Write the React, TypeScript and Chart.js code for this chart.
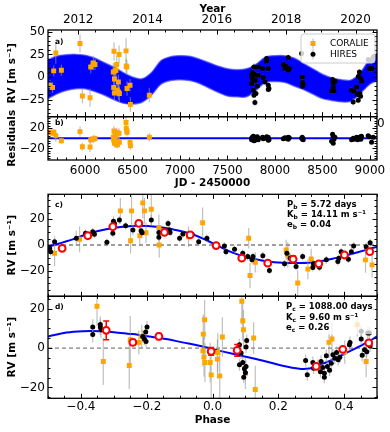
import React, { useEffect, useRef } from 'react';
import { Chart, registerables } from 'chart.js';
Chart.register(...registerables);

// ---------------- axis ranges & ticks ----------------
const JD_MIN = 5610;
const JD_MAX = 9075;
const jdTicks = [6000, 6500, 7000, 7500, 8000, 8500, 9000];
const yearTicks = [2012, 2014, 2016, 2018, 2020];
const rvTicksA = [-25, 0, 25, 50];
const resTicksB = [-20, 0, 20];
const rvTicksC = [-20, 0, 20];
const rvTicksD = [-20, 0, 20];
const phaseTicks = [-0.4, -0.2, 0, 0.2, 0.4];

// ---------------- panel a / b : time series ----------------
const coralieJD = [5632, 5658, 5692, 5670, 5751, 5947, 5972, 6053, 6060, 6088, 6105, 6298, 6316, 6305, 6326, 6310, 6333, 6351, 6358, 6302, 6309, 6338, 6352, 6362, 6432, 6434, 6440, 6442, 6474, 6478, 6677];
const coralieRV = [-9.2, -11.8, 26.6, 6.7, 7.4, 37, -21, -23, 11, 15.5, 13.7, 5.5, 6.7, 28.5, 7.4, -2.2, 13.8, -5.5, 24.8, -11.8, -17.8, -14.8, -16.6, -18.4, 28.9, 12.2, 11.1, -12.9, -9.2, -30.6, -20.3];
const coralieErr = [6, 6, 12, 6, 6, 10, 8, 10, 7, 8, 6, 10, 8, 10, 8, 8, 9, 8, 10, 8, 8, 7, 9, 9, 14, 8, 8, 8, 7, 8, 8];
const coralieRes = [12, 10, 5, 12, -4.7, 13.3, -16.7, -17.3, -2.7, -1.3, -0.5, 2, 6.7, 14.7, 4.7, -1.3, 12, -6.7, 10, -3.3, -10, -13.3, -6, -8, 31.3, 20, 15.3, 12, -8, -14.7, 2];

const hiresJD = [7754, 7754, 7762, 7765, 7772, 7772, 7779, 7779, 7785, 7789, 7789, 7795, 7800, 7807, 7815, 7824, 7824, 7870, 7877, 7895, 7912, 7912, 7930, 7930, 7929, 7937, 8088, 8105, 8116, 8140, 8140, 8151, 8281, 8288, 8291, 8291, 8298, 8597, 8607, 8614, 8614, 8621, 8632, 8807, 8824, 8832, 8860, 8870, 8877, 8880, 8890, 8895, 8902, 8905, 8912, 8982, 8993, 9018, 9035];
const hiresRV = [1.9, -7.3, -1.8, 5, -14.8, 3, 11.1, -20.3, -4, 2.7, -28.4, -3.7, -18.4, 1.9, -10, 1.9, 11.1, 9.3, -0.7, -5.5, 20.4, 17.4, -9.2, -14, 9.3, -12.9, 13.8, 9.3, 12.2, 21.5, 7.4, 9.3, 26, 0, -6.2, -10.3, -8.4, -15.5, -2.9, -7.3, -11.8, -15.5, -4.8, -14.8, -27.7, -15.9, -11.1, -19.5, -25.9, 0.8, 5.5, -18.4, -21.4, -1.8, -4.8, 19.3, 9.3, 9.3, 22.2];
const hiresErr = [3, 3, 3, 3, 3, 3, 4, 3, 3, 3, 4, 3, 3, 3, 3, 3, 3, 3, 3, 3, 3, 3, 3, 3, 3, 3, 3, 3, 3, 3, 3, 3, 3, 3, 3, 3, 3, 3, 3, 3, 3, 3, 3, 3, 4, 3, 3, 3, 3, 3, 3, 3, 3, 3, 3, 3, 3, 3, 3];
const hiresRes = [0, -3, 2, -1, 4, -2, 3, -5, 1, -2, -4, 0, 2, -1, 3, 0, -3, 2, -1, 0, 3, 1, -2, -4, 2, -3, -1, 1, 0, 2, -2, 1, 0, 2, -2, 0, -3, -6, 8, 4, -10, -2, 2, -3, 0, -2, 2, -3, -1, 0, 2, -1, 3, -2, 4, 5, 3, -8, 2];

// model band (upper / lower envelope) read at sample dates
const bandJD = [5610, 5700, 5800, 5900, 6000, 6100, 6200, 6300, 6400, 6500, 6600, 6700, 6800, 6900, 7000, 7100, 7200, 7300, 7400, 7500, 7600, 7700, 7800, 7900, 8000, 8100, 8200, 8300, 8400, 8500, 8600, 8700, 8800, 8900, 9000, 9075];
const bandUpper = [19, 23, 24.5, 25, 24, 21, 16, 11, 5, 0, -2, 5, 18, 22.5, 23.5, 23, 20, 16, 12, 9, 8, 9, 14, 22, 23.5, 23.5, 21, 15, 9, 3, -1, -3, -3.5, 5, 20, 26];
const bandLower = [-24, -19, -15, -13, -13, -16, -20, -25, -29, -30, -28, -20, -8, -4, -3, -4, -7, -12, -17, -21, -22, -22, -15, -6, -5, -6, -10, -14, -19, -24, -26, -27.5, -27, -18, -8, -4];

// ---------------- panel c : planet b phase fold ----------------
const hiresPhaseB = [-0.495, -0.492, -0.48, -0.414, -0.386, -0.364, -0.359, -0.321, -0.301, -0.303, -0.298, -0.283, -0.264, -0.242, -0.217, -0.214, -0.186, -0.163, -0.163, -0.135, -0.131, -0.129, -0.1, -0.09, -0.062, -0.042, -0.017, 0.011, 0.036, 0.041, 0.067, 0.092, 0.107, 0.12, 0.123, 0.153, 0.173, 0.219, 0.226, 0.236, 0.254, 0.274, 0.305, 0.307, 0.325, 0.346, 0.381, 0.384, 0.391, 0.413, 0.422, 0.429, 0.467, 0.479];
const hiresRVB = [-2.6, -5.2, 2.6, 5.2, 9.1, 10.3, 8.3, 2.1, 18.4, 9.1, 16.8, 19.4, 15, 11.6, 11.1, 9.5, 19.4, 6, 9.8, 16.8, 11.6, 9.8, 5.2, 8.5, 8.3, 2.6, 5.2, 0, -0.8, -5.2, -3.4, -6.5, -9, -11.6, -9, -8.3, -19.9, -14.7, -6.5, -10.3, -16.8, -9, -17.6, -14.7, -17.3, -11.6, -12.9, -10.3, -5.2, -11.1, -5.2, -0.8, -1.3, 1.8];
const hiresErrB = [3, 3, 4, 6, 3, 3, 3, 3, 4, 3, 3, 3, 3, 4, 3, 3, 4, 3, 3, 3, 3, 3, 3, 3, 3, 3, 3, 3, 3, 3, 3, 3, 3, 3, 3, 3, 3, 3, 3, 3, 3, 3, 3, 3, 3, 3, 3, 3, 3, 3, 3, 3, 3, 3];
const coraliePhaseB = [-0.48, -0.404, -0.28, -0.246, -0.249, -0.221, -0.212, -0.207, -0.186, -0.202, -0.163, -0.162, -0.03, -0.073, 0.11, 0.114, 0.13, 0.224, 0.229, 0.259, 0.29, 0.3, 0.465, 0.485];
const coralieRVB = [-6.5, 4.4, 26.6, 26.6, 3.3, 7.2, 32.8, 26.6, 27.9, 9.5, 13.7, 0, 17.3, 6.4, 5.2, -23.8, -13.4, -3.9, -7.8, -29.7, -18.8, -10.9, -11.6, -15.5];
const coralieErrB = [10, 10, 10, 12, 10, 8, 12, 10, 12, 8, 10, 10, 12, 8, 8, 10, 8, 8, 10, 10, 8, 8, 10, 10];
const binPhaseB = [-0.457, -0.379, -0.303, -0.224, -0.146, -0.068, 0.011, 0.089, 0.168, 0.245, 0.323, 0.401, 0.478];
const binRVB = [-2.6, 7.2, 14.2, 16.8, 9.8, 7.8, -0.5, -10.3, -14.2, -11.1, -14.7, -7.8, -5.2];
const binErrB = [1.5, 1.5, 1.5, 1.5, 1.5, 1.5, 1.5, 1.5, 1.5, 2.5, 1.5, 1.5, 1.5];
const modelPhaseB = [-0.5, -0.425, -0.374, -0.323, -0.273, -0.222, -0.171, -0.121, -0.07, -0.019, 0.011, 0.061, 0.112, 0.163, 0.213, 0.264, 0.315, 0.365, 0.416, 0.467, 0.5];
const modelRVB = [-1.3, 4.4, 9.1, 12.2, 14.2, 15, 14.2, 12.2, 9.1, 3.9, 0, -6, -10.2, -12.6, -13.8, -14, -13.2, -10.8, -7.4, -3.8, -1.3];

// ---------------- panel d : planet c phase fold ----------------
const hiresPhaseC = [-0.364, -0.364, -0.341, -0.341, -0.339, -0.212, -0.207, -0.202, -0.199, -0.203, 0.082, 0.087, 0.082, 0.092, 0.097, 0.095, 0.102, 0.102, 0.104, 0.1, 0.283, 0.288, 0.305, 0.307, 0.32, 0.328, 0.33, 0.335, 0.34, 0.34, 0.346, 0.349, 0.356, 0.361, 0.366, 0.372, 0.377, 0.382, 0.387, 0.416, 0.418, 0.452, 0.455, 0.462, 0.469, 0.479, 0.452, 0.472, 0.477];
const hiresRVC = [10.7, 6.9, 12, 10.7, 9.3, 5.9, 4.6, 3.4, 10.7, 8.2, 1.7, -2.5, -8.5, -7.3, -10.5, -14.8, -9.3, 0.5, 3.9, -12.5, -6.3, -13.6, -7.3, -10.2, -8.8, -12, -6.8, -9.8, -14.8, -12.8, -3.9, -9.3, -11.2, -7.7, -3.4, -5.1, -2.2, -5.9, -4.6, 1.7, 2.9, 4.6, -3.7, -0.8, -1.9, 1, 8.5, 7.7, 7.7];
const hiresErrC = [4, 4, 4, 4, 4, 3, 3, 3, 3, 3, 3, 3, 3, 3, 3, 3, 3, 3, 3, 3, 3, 3, 3, 3, 3, 3, 3, 3, 3, 3, 3, 3, 3, 3, 3, 3, 3, 3, 3, 3, 3, 3, 3, 3, 3, 3, 3, 3, 3];
const coraliePhaseC = [-0.351, -0.332, -0.253, -0.25, -0.224, -0.215, -0.029, -0.024, -0.028, -0.026, -0.023, -0.007, -0.004, 0.016, 0.015, 0.022, 0.03, 0.089, 0.092, 0.094, 0.1, 0.125, 0.13, 0.354, 0.363, 0.402, 0.467, 0.44];
const coralieRVC = [21.2, -6.8, -8.8, 4.3, 2.9, 5.9, -1.4, 14.4, 7.1, -4.6, -7.3, -7.3, -13.6, -2.2, -5.6, -14.1, 5.6, 23.8, 13.9, 9.3, -12.8, 5.1, -21, 2.9, 4.6, -2, -6.8, 11.9];
const coralieErrC = [10, 12, 12, 12, 6, 6, 8, 10, 10, 10, 10, 10, 12, 10, 10, 12, 10, 12, 10, 10, 8, 8, 12, 8, 8, 6, 8, 6];
const binPhaseC = [-0.323, -0.242, -0.163, -0.004, 0.075, 0.315, 0.396, 0.475];
const binRVC = [9.0, 2.9, 5.9, -1.7, -1.2, -9.3, -0.7, 2.6];
const binErrC = [4.8, 1.5, 1.5, 2, 3, 1, 0.8, 0.8];
const modelPhaseC = [-0.5, -0.444, -0.394, -0.343, -0.293, -0.242, -0.192, -0.141, -0.091, -0.04, 0.011, 0.061, 0.112, 0.163, 0.213, 0.264, 0.294, 0.315, 0.365, 0.416, 0.467, 0.5];
const modelRVC = [5.9, 7.9, 8.6, 8.6, 7.9, 7.1, 5.9, 4.6, 2.9, 1.2, -0.9, -2.9, -4.8, -6.8, -9.0, -10.5, -10.4, -9.3, -5.9, -1.7, 2.6, 5.9];

// ---------------- helpers ----------------
const ORANGE = '#FFA500';
const BLUE = '#0000FF';
const ERR = 'rgba(150,150,150,0.6)';
const FONT = 'DejaVu Sans';
Chart.defaults.font.family = FONT;
Chart.defaults.color = '#000';

const pts = (xs: number[], ys: number[]) => xs.map((x, i) => ({ x, y: ys[i] }));
const fmt = (v: number, d = 0) => (v < -1e-9 ? '\u2212' : '') + Math.abs(v).toFixed(d);
const yearOf = (jd: number) => 2000 + (jd - 1544.5) / 365.25;

type PanelSpec = { y: string; yMinor: number; xTop: string; xTopMinor: number; xBot: string; xBotMinor: number; label: string; labelDy: number };
type TextLine = { main: string; sub: string; rest: string; dy: number };

function makePlugin(cfg: any) {
  return {
    id: 'panels',
    beforeDatasetDraw(chart: any, args: any) {
      const ds: any = chart.data.datasets[args.index];
      if (!ds.errs) return;
      const xs = chart.scales[ds.xAxisID || 'x'];
      const ys = chart.scales[ds.yAxisID];
      const ca = chart.chartArea;
      const ctx = chart.ctx;
      ctx.save();
      ctx.beginPath();
      ctx.rect(ca.left, ys.top, ca.right - ca.left, ys.bottom - ys.top);
      ctx.clip();
      ctx.strokeStyle = ds.errColor;
      ctx.lineWidth = ds.errWidth || 1.2;
      ds.data.forEach((p: any, i: number) => {
        const e = ds.errs[i];
        const px = xs.getPixelForValue(p.x);
        const y1 = ys.getPixelForValue(p.y - e);
        const y2 = ys.getPixelForValue(p.y + e);
        ctx.beginPath();
        ctx.moveTo(px, y1);
        ctx.lineTo(px, y2);
        if (ds.cap) {
          ctx.moveTo(px - ds.cap, y1); ctx.lineTo(px + ds.cap, y1);
          ctx.moveTo(px - ds.cap, y2); ctx.lineTo(px + ds.cap, y2);
        }
        ctx.stroke();
      });
      ctx.restore();
    },
    afterDraw(chart: any) {
      const ctx = chart.ctx;
      const ca = chart.chartArea;
      const panels: PanelSpec[] = cfg.panels;
      const majorVals = (s: any) => s.ticks.map((t: any) => t.value);
      const xTicks = (s: any, minor: number, edge: number, dir: number) => {
        const maj = majorVals(s);
        const k0 = Math.ceil(s.min / minor - 1e-6), k1 = Math.floor(s.max / minor + 1e-6);
        for (let k = k0; k <= k1; k++) {
          const v = k * minor;
          const isMaj = maj.some((m: number) => Math.abs(m - v) < minor / 100);
          const x = Math.round(s.getPixelForValue(v)) + 0.5;
          ctx.moveTo(x, edge); ctx.lineTo(x, edge + dir * (isMaj ? 4.5 : 2.5));
        }
      };
      const yTicks = (s: any, minor: number) => {
        const maj = majorVals(s);
        const k0 = Math.ceil(s.min / minor - 1e-6), k1 = Math.floor(s.max / minor + 1e-6);
        for (let k = k0; k <= k1; k++) {
          const v = k * minor;
          const isMaj = maj.some((m: number) => Math.abs(m - v) < minor / 100);
          const y = Math.round(s.getPixelForValue(v)) + 0.5;
          const len = isMaj ? 4.5 : 2.5;
          ctx.moveTo(ca.left, y); ctx.lineTo(ca.left + len, y);
          ctx.moveTo(ca.right, y); ctx.lineTo(ca.right - len, y);
        }
      };
      for (const p of panels) {
        const ys = chart.scales[p.y];
        ctx.save();
        ctx.strokeStyle = '#000';
        ctx.lineWidth = 1;
        ctx.beginPath();
        yTicks(ys, p.yMinor);
        xTicks(chart.scales[p.xTop], p.xTopMinor, ys.top, 1);
        xTicks(chart.scales[p.xBot], p.xBotMinor, ys.bottom, -1);
        ctx.stroke();
        ctx.lineWidth = 1.3;
        ctx.strokeRect(ca.left, ys.top, ca.right - ca.left, ys.bottom - ys.top);
        ctx.fillStyle = '#000';
        ctx.font = `bold 7.5px "${FONT}"`;
        ctx.textAlign = 'left';
        ctx.textBaseline = 'middle';
        ctx.fillText(p.label, ca.left + 7, ys.top + p.labelDy);
        ctx.restore();
      }
      // annotation blocks
      for (const a of cfg.annotations || []) {
        const ys = chart.scales[a.y];
        ctx.save();
        if (a.box) {
          ctx.fillStyle = 'rgba(255,255,255,0.75)';
          ctx.fillRect(a.box[0], ys.top + a.box[1], a.box[2], a.box[3]);
        }
        ctx.fillStyle = '#000';
        ctx.textBaseline = 'middle';
        ctx.textAlign = 'left';
        for (const t of a.lines as TextLine[]) {
          let x = a.x;
          const y = ys.top + t.dy;
          ctx.font = `bold 8.5px "${FONT}"`;
          ctx.fillText(t.main, x, y);
          x += ctx.measureText(t.main).width;
          ctx.font = `bold 6px "${FONT}"`;
          ctx.fillText(t.sub, x, y + 2.5);
          x += ctx.measureText(t.sub).width;
          ctx.font = `bold 8.5px "${FONT}"`;
          ctx.fillText(t.rest, x, y);
        }
        ctx.restore();
      }
      // legend
      const lg = cfg.legend;
      if (lg) {
        ctx.save();
        ctx.beginPath();
        if (ctx.roundRect) ctx.roundRect(lg.x, lg.y, lg.w, lg.h, 3); else ctx.rect(lg.x, lg.y, lg.w, lg.h);
        ctx.fillStyle = 'rgba(255,255,255,0.8)';
        ctx.fill();
        ctx.strokeStyle = '#cccccc';
        ctx.lineWidth = 1;
        ctx.stroke();
        lg.items.forEach((it: any, i: number) => {
          const mx = lg.x + 12, my = lg.y + 9.5 + i * 10.7;
          ctx.strokeStyle = ERR;
          ctx.lineWidth = 1.2;
          ctx.beginPath(); ctx.moveTo(mx, my - 5); ctx.lineTo(mx, my + 5); ctx.stroke();
          ctx.fillStyle = it.color;
          if (it.shape === 'rect') ctx.fillRect(mx - 2.5, my - 2.5, 5, 5);
          else { ctx.beginPath(); ctx.arc(mx, my, 2.5, 0, Math.PI * 2); ctx.fill(); }
          ctx.fillStyle = '#000';
          ctx.font = `9px "${FONT}"`;
          ctx.textAlign = 'left';
          ctx.textBaseline = 'middle';
          ctx.fillText(it.label, lg.x + 29, my);
        });
        ctx.restore();
      }
      for (const t of cfg.extraTexts || []) {
        ctx.save();
        ctx.fillStyle = '#000';
        ctx.font = t.font;
        ctx.textAlign = 'left';
        ctx.textBaseline = 'middle';
        ctx.fillText(t.text, t.x, t.y);
        ctx.restore();
      }
    },
  };
}

const tickFont = { size: 12, family: FONT };
const titleFont = { size: 10.5, weight: 'bold' as const, family: FONT };

function yScale(stack: string, min: number, max: number, ticks: number[], title: string, weight: number, stackWeight: number) {
  return {
    type: 'linear', position: 'left', stack, stackWeight, weight, min, max,
    grid: { display: false, drawTicks: false }, border: { display: false },
    afterBuildTicks: (s: any) => { s.ticks = ticks.map((v) => ({ value: v })); },
    afterFit: (s: any) => { s.width = 48; s.paddingTop = 0; s.paddingBottom = 0; },
    ticks: { padding: 3, font: tickFont, color: '#000', callback: (v: any) => fmt(Number(v)) },
    title: { display: true, text: title, font: titleFont, color: '#000', padding: { top: 6, bottom: 0 } },
  };
}

function scatterSet(xs: number[], ys: number[], errs: number[], yAxisID: string, style: string, color: string, radius: number, order: number) {
  return {
    type: 'scatter', data: pts(xs, ys), yAxisID, xAxisID: 'x', order,
    pointStyle: style, pointRadius: radius, pointBackgroundColor: color, pointBorderWidth: 0,
    showLine: false, errs, errColor: ERR, errWidth: 1.2,
  };
}

function lineSet(xs: number[], ys: number[], yAxisID: string, color: string, width: number, order: number, extra: any = {}) {
  return {
    type: 'line', data: pts(xs, ys), yAxisID, xAxisID: 'x', order,
    borderColor: color, borderWidth: width, pointRadius: 0, showLine: true, fill: false,
    tension: 0.35, ...extra,
  };
}

function binSet(xs: number[], ys: number[], errs: number[], yAxisID: string) {
  return {
    type: 'scatter', data: pts(xs, ys), yAxisID, xAxisID: 'x', order: 0,
    pointStyle: 'circle', pointRadius: 3.4, pointBackgroundColor: '#ffffff', pointBorderColor: '#ff0000', pointBorderWidth: 2,
    showLine: false, errs, errColor: '#ff0000', errWidth: 1.5, cap: 3,
  };
}

function configAB(): any {
  const plugin = makePlugin({
    panels: [
      { y: 'ya', yMinor: 5, xTop: 'x2', xTopMinor: 0.5, xBot: 'x', xBotMinor: 100, label: 'a)', labelDy: 11.7 },
      { y: 'yb', yMinor: 5, xTop: 'x', xTopMinor: 100, xBot: 'x', xBotMinor: 100, label: 'b)', labelDy: 6 },
    ],
    legend: {
      x: 301, y: 34, w: 74, h: 29,
      items: [{ label: 'CORALIE', color: ORANGE, shape: 'rect' }, { label: 'HIRES', color: '#000', shape: 'circle' }],
    },
    extraTexts: [{ text: '0', x: 377, y: 124, font: `12px "${FONT}"` }],
  });
  return {
    type: 'scatter',
    data: {
      datasets: [
        scatterSet(hiresJD, hiresRV, hiresErr, 'ya', 'circle', '#000', 2.5, 1),
        scatterSet(coralieJD, coralieRV, coralieErr, 'ya', 'rect', ORANGE, 3.5, 2),
        scatterSet(hiresJD, hiresRes, hiresErr, 'yb', 'circle', '#000', 2.5, 1),
        scatterSet(coralieJD, coralieRes, coralieErr, 'yb', 'rect', ORANGE, 3.5, 2),
        lineSet([JD_MIN, JD_MAX], [0, 0], 'yb', BLUE, 2, 5, { tension: 0 }),
        lineSet(bandJD, bandUpper, 'ya', 'rgba(70,70,255,0.7)', 1.5, 10),
        lineSet(bandJD, bandLower, 'ya', 'rgba(70,70,255,0.7)', 1.5, 10, { fill: '-1', backgroundColor: BLUE }),
      ],
    },
    options: {
      responsive: false, animation: false, devicePixelRatio: 1,
      layout: { padding: { left: 0, right: 13, top: 0, bottom: 0 } },
      plugins: { legend: { display: false }, tooltip: { enabled: false } },
      scales: {
        yb: yScale('ab', -43, 43, resTicksB, 'Residuals', 0, 1),
        ya: yScale('ab', -44, 52, rvTicksA, 'RV [m s\u207B\u00B9]', 1, 2),
        x: {
          type: 'linear', position: 'bottom', min: JD_MIN, max: JD_MAX,
          grid: { display: false, drawTicks: false }, border: { display: false },
          afterBuildTicks: (s: any) => { s.ticks = jdTicks.map((v) => ({ value: v })); },
          afterFit: (s: any) => { s.height = 32; s.paddingLeft = 0; s.paddingRight = 0; },
          ticks: { padding: 4, maxRotation: 0, autoSkip: false, font: tickFont, color: '#000', callback: (v: any) => String(v) },
          title: { display: true, text: 'JD - 2450000', font: titleFont, color: '#000', padding: { top: 0, bottom: 2 } },
        },
        x2: {
          type: 'linear', position: 'top', min: yearOf(JD_MIN), max: yearOf(JD_MAX),
          grid: { display: false, drawTicks: false }, border: { display: false },
          afterBuildTicks: (s: any) => { s.ticks = yearTicks.map((v) => ({ value: v })); },
          afterFit: (s: any) => { s.height = 30; s.paddingLeft = 0; s.paddingRight = 0; },
          ticks: { padding: 3, maxRotation: 0, autoSkip: false, font: tickFont, color: '#000', callback: (v: any) => String(v) },
          title: { display: true, text: 'Year', font: titleFont, color: '#000', padding: { top: 3, bottom: 0 } },
        },
      },
    },
    plugins: [plugin],
  };
}

function configCD(): any {
  const plugin = makePlugin({
    panels: [
      { y: 'yc', yMinor: 5, xTop: 'x', xTopMinor: 0.05, xBot: 'x', xBotMinor: 0.05, label: 'c)', labelDy: 10.7 },
      { y: 'yd', yMinor: 5, xTop: 'x', xTopMinor: 0.05, xBot: 'x', xBotMinor: 0.05, label: 'd)', labelDy: 10.6 },
    ],
    annotations: [
      {
        y: 'yc', x: 287,
        lines: [
          { main: 'P', sub: 'b', rest: ' = 5.72 days', dy: 10.7 },
          { main: 'K', sub: 'b', rest: ' = 14.11 m s\u207B\u00B9', dy: 20.7 },
          { main: 'e', sub: 'b', rest: ' = 0.04', dy: 30.7 },
        ],
      },
      {
        y: 'yd', x: 286, box: [283, 3, 92, 35],
        lines: [
          { main: 'P', sub: 'c', rest: ' = 1088.00 days', dy: 10.6 },
          { main: 'K', sub: 'c', rest: ' = 9.60 m s\u207B\u00B9', dy: 21.6 },
          { main: 'e', sub: 'c', rest: ' = 0.26', dy: 31.6 },
        ],
      },
    ],
  });
  return {
    type: 'scatter',
    data: {
      datasets: [
        binSet(binPhaseB, binRVB, binErrB, 'yc'),
        scatterSet(hiresPhaseB, hiresRVB, hiresErrB, 'yc', 'circle', '#000', 2.5, 1),
        scatterSet(coraliePhaseB, coralieRVB, coralieErrB, 'yc', 'rect', ORANGE, 3.5, 2),
        lineSet(modelPhaseB, modelRVB, 'yc', BLUE, 2, 3),
        lineSet([-0.5, 0.5], [0, 0], 'yc', '#808080', 1.3, 5, { borderDash: [4, 3], tension: 0 }),
        binSet(binPhaseC, binRVC, binErrC, 'yd'),
        scatterSet(hiresPhaseC, hiresRVC, hiresErrC, 'yd', 'circle', '#000', 2.5, 1),
        scatterSet(coraliePhaseC, coralieRVC, coralieErrC, 'yd', 'rect', ORANGE, 3.5, 2),
        lineSet(modelPhaseC, modelRVC, 'yd', BLUE, 2, 3),
        lineSet([-0.5, 0.5], [0, 0], 'yd', '#808080', 1.3, 5, { borderDash: [4, 3], tension: 0 }),
      ],
    },
    options: {
      responsive: false, animation: false, devicePixelRatio: 1,
      layout: { padding: { left: 0, right: 13, top: 8.3, bottom: 0 } },
      plugins: { legend: { display: false }, tooltip: { enabled: false } },
      scales: {
        yd: yScale('cd', -25.5, 26.3, rvTicksD, 'RV [m s\u207B\u00B9]', 0, 1),
        yc: yScale('cd', -40, 39.5, rvTicksC, 'RV [m s\u207B\u00B9]', 1, 1),
        x: {
          type: 'linear', position: 'bottom', min: -0.5, max: 0.5,
          grid: { display: false, drawTicks: false }, border: { display: false },
          afterBuildTicks: (s: any) => { s.ticks = phaseTicks.map((v) => ({ value: v })); },
          afterFit: (s: any) => { s.height = 33.7; s.paddingLeft = 0; s.paddingRight = 0; },
          ticks: { padding: 1, maxRotation: 0, autoSkip: false, font: tickFont, color: '#000', callback: (v: any) => fmt(Number(v), 1) },
          title: { display: true, text: 'Phase', font: titleFont, color: '#000', padding: { top: 0, bottom: 5.7 } },
        },
      },
    },
    plugins: [plugin],
  };
}

function ChartCanvas({ make, top, height }: { make: () => any; top: number; height: number }) {
  const ref = useRef<HTMLCanvasElement>(null);
  useEffect(() => {
    const chart = new Chart(ref.current as HTMLCanvasElement, make());
    return () => chart.destroy();
  }, []);
  return (
    <canvas ref={ref} width={390} height={height}
      style={{ position: 'absolute', left: 0, top, width: 390, height, display: 'block' }} />
  );
}

export default function App() {
  return (
    <div style={{ position: 'absolute', left: 0, top: 0, width: 390, height: 432, background: '#fff', overflow: 'hidden' }}>
      <ChartCanvas make={configAB} top={0} height={192} />
      <ChartCanvas make={configCD} top={186} height={246} />
    </div>
  );
}
